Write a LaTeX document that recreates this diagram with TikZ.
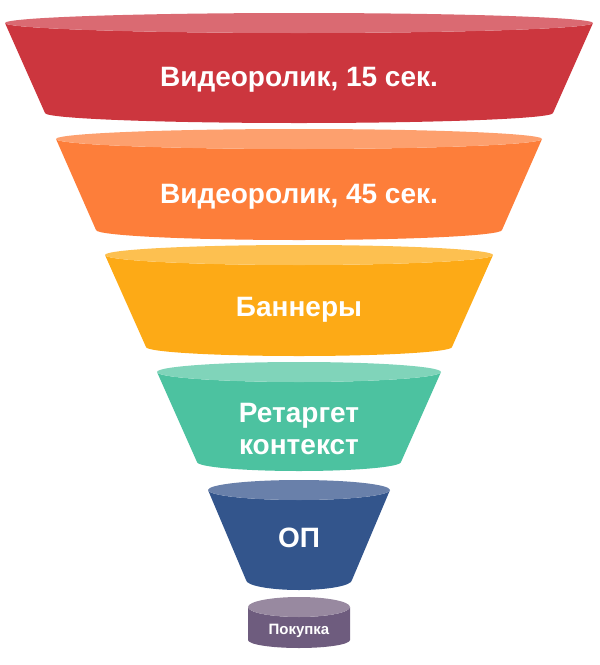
\documentclass[tikz,border=0pt]{standalone}
\usepackage{fontspec}
\setmainfont{Liberation Sans}
\definecolor{redbody}{RGB}{204,54,62}
\definecolor{redtop}{RGB}{218,106,114}
\definecolor{orangebody}{RGB}{253,126,58}
\definecolor{orangetop}{RGB}{253,160,110}
\definecolor{yellowbody}{RGB}{253,170,22}
\definecolor{yellowtop}{RGB}{253,192,80}
\definecolor{tealbody}{RGB}{76,194,160}
\definecolor{tealtop}{RGB}{128,212,186}
\definecolor{bluebody}{RGB}{51,85,140}
\definecolor{bluetop}{RGB}{105,128,170}
\definecolor{purplebody}{RGB}{110,92,126}
\definecolor{purpletop}{RGB}{152,137,160}
\begin{document}
\begin{tikzpicture}[x=1pt,y=1pt,
  lbl/.style={text=white,font=\bfseries\fontsize{28}{32}\selectfont,align=center},
  smalllbl/.style={text=white,font=\bfseries\fontsize{15}{17}\selectfont}]
\useasboundingbox (0,0) rectangle (600,-665);
% red
\fill[redbody] (5,-23) -- (45,-113) arc [start angle=180, end angle=360, x radius=254, y radius=10]
  -- (593,-23) arc [start angle=0, end angle=-180, x radius=294, y radius=10] -- cycle;
\fill[redtop] (299,-23) ellipse [x radius=294, y radius=10];
\node[lbl] (video15) at (299,-80) {Видеоролик, 15 сек.};
% orange
\fill[orangebody] (56,-139) -- (96,-230) arc [start angle=180, end angle=360, x radius=203, y radius=10]
  -- (542,-139) arc [start angle=0, end angle=-180, x radius=243, y radius=10] -- cycle;
\fill[orangetop] (299,-139) ellipse [x radius=243, y radius=10];
\node[lbl] (video45) at (299,-197) {Видеоролик, 45 сек.};
% yellow
\fill[yellowbody] (105,-255) -- (146,-347) arc [start angle=180, end angle=360, x radius=153, y radius=9]
  -- (493,-255) arc [start angle=0, end angle=-180, x radius=194, y radius=10] -- cycle;
\fill[yellowtop] (299,-255) ellipse [x radius=194, y radius=10];
\node[lbl] (banners) at (299,-310) {Баннеры};
% teal
\fill[tealbody] (157,-372) -- (197,-462) arc [start angle=180, end angle=360, x radius=102, y radius=9]
  -- (441,-372) arc [start angle=0, end angle=-180, x radius=142, y radius=10] -- cycle;
\fill[tealtop] (299,-372) ellipse [x radius=142, y radius=10];
\node[lbl] (retarget) at (299,-429) {Ретаргет\\контекст};
% blue
\fill[bluebody] (208,-490) -- (246,-580) arc [start angle=180, end angle=360, x radius=53, y radius=10]
  -- (390,-490) arc [start angle=0, end angle=-180, x radius=91, y radius=10] -- cycle;
\fill[bluetop] (299,-490) ellipse [x radius=91, y radius=10];
\node[lbl] (op) at (299,-538) {ОП};
% purple
\fill[purplebody] (248,-607) -- (248,-640) arc [start angle=180, end angle=360, x radius=51, y radius=8]
  -- (350,-607) arc [start angle=0, end angle=-180, x radius=51, y radius=10] -- cycle;
\fill[purpletop] (299,-607) ellipse [x radius=51, y radius=10];
\node[smalllbl] (buy) at (299,-631) {Покупка};
\end{tikzpicture}
\end{document}
